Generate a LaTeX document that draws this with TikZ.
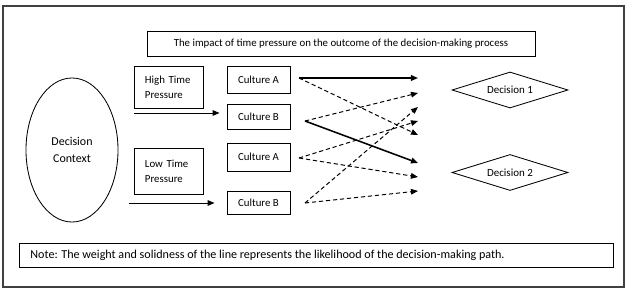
\documentclass[tikz,border=0pt]{standalone}
\usepackage{fontspec}
\setmainfont{Carlito}
\usetikzlibrary{arrows.meta,shapes.geometric,positioning}

\begin{document}
\begin{tikzpicture}[x=0.025cm,y=-0.025cm,>={Triangle[length=5pt,width=4pt]},
  box/.style={draw,line width=0.6pt,minimum height=0.65cm,align=center,
              font=\fontsize{7.7}{10.5}\selectfont},
  culture/.style={box,minimum width=1.575cm},
  pressure/.style={box,align=left,inner xsep=0.275cm,text width=1.175cm},
  decision/.style={draw,diamond,line width=0.6pt,aspect=3.2,inner sep=0pt,
              minimum width=2.9cm,minimum height=0.9cm,font=\fontsize{7.8}{9}\selectfont},
  likely/.style={->,line width=1.1pt},
  unlikely/.style={->,line width=0.7pt,dash pattern=on 3pt off 2pt}]
  \useasboundingbox (0,0) rectangle (640,301);
  \draw[line width=0.8pt,draw=black!75] (3,6) rectangle (624,287);

  \node[box,minimum width=9.7cm,minimum height=0.625cm] (title) at (341,43.5)
    {The impact of time pressure on the outcome of the decision-making process};
  \node[draw,ellipse,line width=0.6pt,inner sep=0pt,minimum width=2.3cm,minimum height=3.6cm,
        align=center,font=\fontsize{8.5}{12}\selectfont] (context) at (72,150) {Decision\\Context};

  \node[pressure,minimum height=1.05cm] (high) at (168.5,87) {High Time\\Pressure};
  \node[pressure,minimum height=1.15cm] (low) at (168.5,171) {Low Time\\Pressure};

  \node[culture,minimum height=0.675cm] (cultAH) at (258.5,79.5) {Culture A};
  \node[culture,minimum height=0.625cm] (cultBH) at (258.5,116.5) {Culture B};
  \node[culture,minimum height=0.7cm] (cultAL) at (258.5,157) {Culture A};
  \node[culture,minimum height=0.575cm] (cultBL) at (258.5,202.5) {Culture B};

  \node[decision] (dec1) at (510,90) {Decision 1};
  \node[decision] (dec2) at (510,172.5) {Decision 2};

  \node[draw,line width=0.6pt,minimum width=14.85cm,minimum height=0.6cm,anchor=west,
        inner xsep=0.275cm,font=\fontsize{8.6}{10}\selectfont] (note) at (19,255)
    {\makebox[14.3cm][l]{Note: The weight and solidness of the line represents the likelihood of the decision-making path.}};

  % pressure arrows
  \coordinate (hs) at (134,113);
  \coordinate (ls) at (129,203);
  \draw[->,line width=0.7pt,shorten >=0.175cm] (hs) -- (hs -| cultBH.west);
  \draw[->,line width=0.7pt,shorten >=0.3cm] (ls) -- (ls -| cultBL.west);

  % paths towards the decisions
  \coordinate (aH) at (299,78);
  \coordinate (bH) at (305,121);
  \coordinate (aL) at (299,158);
  \coordinate (bL) at (305,203);
  \coordinate (d1) at (418,78);
  \coordinate (d2) at (418,93);
  \coordinate (d3) at (418,107);
  \coordinate (d4) at (418,121);
  \coordinate (d5) at (418,135);
  \coordinate (e1) at (418,163);
  \coordinate (e2) at (418,177);
  \coordinate (e3) at (418,191);
  \draw[likely] (aH) -- (d1);
  \draw[likely] (bH) -- (e1);
  \foreach \s/\t in {aH/d5,bH/d2,aL/d4,aL/e2,bL/d3,bL/e3}
    \draw[unlikely] (\s) -- (\t);
\end{tikzpicture}
\end{document}
